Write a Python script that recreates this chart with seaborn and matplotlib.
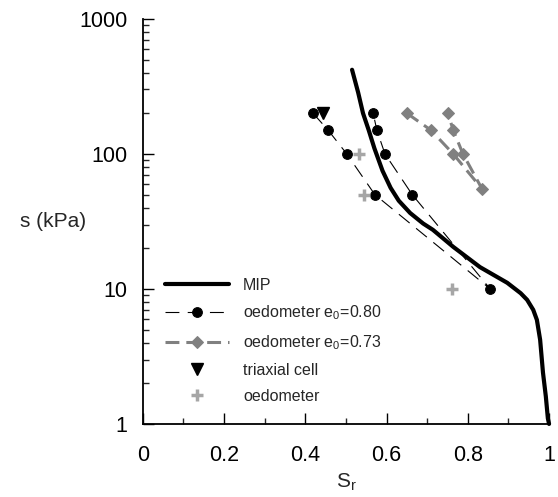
import matplotlib
matplotlib.use("Agg")
import matplotlib.pyplot as plt
import matplotlib.ticker as ticker
import seaborn as sns

# MIP curve (degree of saturation vs suction)
mip_sr = [0.515, 0.530, 0.542, 0.556, 0.570, 0.590, 0.610, 0.630, 0.658, 0.690,
          0.714, 0.764, 0.830, 0.897, 0.930, 0.946, 0.961, 0.970, 0.978, 0.985,
          0.992, 0.997, 1.0]
mip_s = [420, 285, 200, 150, 110, 75, 56, 45, 36.5, 30.5,
         27.4, 20.5, 14.5, 11.1, 9.3, 8.3, 7.0, 5.9, 4.2, 2.4,
         1.6, 1.1, 1.0]

# oedometer e0=0.80 (wetting path then drying path)
oed80_sr = [0.419, 0.456, 0.502, 0.571, 0.855, 0.663, 0.596, 0.576, 0.567]
oed80_s = [200, 150, 100, 50, 10, 50, 100, 150, 200]

# oedometer e0=0.73
oed73_sr = [0.650, 0.709, 0.764, 0.835, 0.788, 0.764, 0.751]
oed73_s = [200, 150, 100, 55, 100, 150, 200]

# triaxial cell
tri_sr = [0.443]
tri_s = [200]

# oedometer (single points)
oed_sr = [0.532, 0.544, 0.761]
oed_s = [100, 50, 10]

sns.set_style("ticks")
plt.rcParams["font.family"] = ["Liberation Sans", "DejaVu Sans"]
plt.rcParams["mathtext.fontset"] = "custom"
plt.rcParams["mathtext.rm"] = "Liberation Sans"
plt.rcParams["lines.scale_dashes"] = False

fig = plt.figure(figsize=(5.58, 4.97), dpi=100)
ax = fig.add_axes([0.256, 0.147, 0.728, 0.815])

sns.lineplot(x=mip_sr, y=mip_s, sort=False, estimator=None, color="black",
             lw=3, label="MIP", ax=ax, clip_on=False)
sns.lineplot(x=oed80_sr, y=oed80_s, sort=False, estimator=None, color="black",
             lw=0.8, linestyle=(0, (10, 6)), marker="o", markersize=7,
             markeredgecolor="black", markerfacecolor="black",
             label=r"oedometer e$_\mathregular{0}$=0.80", ax=ax)
sns.lineplot(x=oed73_sr, y=oed73_s, sort=False, estimator=None, color="#808080",
             lw=2.2, linestyle=(0, (10, 5)), marker="D", markersize=6,
             markeredgecolor="#808080", markerfacecolor="#808080",
             label=r"oedometer e$_0$=0.73", ax=ax)
ax.plot(tri_sr, tri_s, linestyle="none", marker="v", markersize=8,
        color="black", label="triaxial cell")
ax.plot(oed_sr, oed_s, linestyle="none", marker="+", markersize=8,
        markeredgewidth=2.5, color="#a6a6a6", label="oedometer")

ax.set_yscale("log")
ax.set_xlim(0, 1)
ax.set_ylim(1, 1000)
ax.xaxis.set_major_locator(ticker.MultipleLocator(0.2))
ax.xaxis.set_minor_locator(ticker.MultipleLocator(0.1))
ax.xaxis.set_major_formatter(ticker.FuncFormatter(lambda v, _: f"{v:g}"))
ax.yaxis.set_major_locator(ticker.LogLocator(base=10))
ax.yaxis.set_minor_locator(ticker.LogLocator(base=10, subs=range(2, 10)))
ax.yaxis.set_major_formatter(ticker.FuncFormatter(lambda v, _: f"{v:g}"))
ax.yaxis.set_minor_formatter(ticker.NullFormatter())

ax.tick_params(which="major", direction="in", length=8, width=1,
               labelsize=15.5, pad=11, colors="black")
ax.tick_params(axis="x", which="major", pad=15)
ax.tick_params(which="minor", direction="in", length=4.5, width=1)
sns.despine(ax=ax)
for sp in ["left", "bottom"]:
    ax.spines[sp].set_linewidth(1.3)
    ax.spines[sp].set_color("black")

ax.set_xlabel("S$_\mathregular{r}$", fontsize=15, labelpad=4)
ax.set_ylabel("s (kPa)", fontsize=15, rotation=0, ha="center", va="center")
ax.yaxis.set_label_coords(-0.222, 0.5)

ax.legend(loc="upper left", bbox_to_anchor=(0.054, 0.361), frameon=False,
          fontsize=11.5, handlelength=4, handletextpad=0.9, labelspacing=0.68,
          borderpad=0, borderaxespad=0, numpoints=1)

fig.savefig("out.png", dpi=100)
